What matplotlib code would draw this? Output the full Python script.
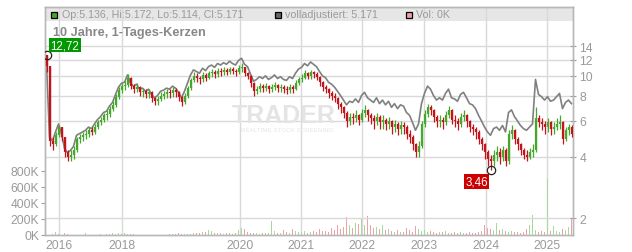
import matplotlib
matplotlib.use("Agg")
import matplotlib.pyplot as plt
from matplotlib.patches import Rectangle
from matplotlib.ticker import NullLocator

plt.rcParams["font.family"] = ["Liberation Sans", "DejaVu Sans"]

# closing prices, one value per sample (each sample = a few trading days)
close = [
    11.2, 4.8, 4.6, 5.1, 5.6, 5.0, 4.2, 4.0, 4.1, 4.3,
    4.9, 5.0, 5.1, 5.2, 5.4, 5.3, 5.6, 5.9, 6.1, 6.4,
    6.5, 6.9, 7.2, 7.9, 8.5, 8.9, 9.0, 9.8, 8.9, 8.6,
    8.8, 8.3, 8.4, 8.1, 8.3, 7.8, 7.5, 7.7, 8.0, 8.1,
    8.3, 8.2, 8.5, 8.3, 7.9, 7.4, 8.0, 8.7, 9.5, 10.0,
    9.8, 9.6, 10.1, 9.8, 10.3, 10.5, 10.2, 10.6, 10.4, 10.7,
    10.5, 10.8, 10.6, 10.4, 10.9, 11.0, 10.3, 10.0, 9.2, 8.4,
    8.6, 8.9, 8.7, 8.9, 8.6, 8.8, 9.0, 8.7, 8.8, 8.6,
    8.5, 8.8, 8.6, 9.2, 9.6, 9.8, 10.3, 10.0, 10.4, 10.2,
    9.9, 9.3, 8.8, 8.6, 8.2, 8.0, 7.8, 7.3, 7.0, 6.6,
    6.0, 6.3, 6.2, 6.4, 6.1, 6.6, 6.8, 6.4, 6.2, 6.0,
    6.3, 5.9, 6.1, 5.8, 6.0, 5.6, 5.8, 5.5, 5.7, 5.6,
    5.2, 5.0, 4.6, 4.2, 4.5, 5.8, 6.5, 7.0, 6.8, 6.3,
    6.0, 6.1, 5.9, 6.4, 6.8, 6.1, 6.0, 5.8, 6.3, 6.4,
    6.0, 5.6, 5.5, 5.3, 4.9, 4.6, 4.2, 3.9, 3.8, 4.1,
    4.2, 4.0, 4.3, 3.8, 5.2, 5.4, 4.9, 4.6, 4.3, 4.1,
    4.0, 4.2, 4.3, 6.2, 5.9, 5.8, 5.6, 5.9, 5.5, 5.6,
    5.8, 5.9, 4.9, 5.4, 5.6, 5.2,
]

# lowest / highest price within each sample
low = [
    10.4, 4.5, 4.3, 4.5, 5.0, 4.8, 4.0, 3.8, 3.8, 3.9,
    4.2, 4.7, 4.8, 4.9, 5.0, 5.1, 5.2, 5.5, 5.7, 5.9,
    6.1, 6.3, 6.7, 7.0, 7.7, 8.2, 8.5, 8.8, 8.6, 8.2,
    8.3, 8.0, 7.9, 7.8, 7.8, 7.4, 7.2, 7.2, 7.5, 7.7,
    7.8, 7.8, 7.9, 7.9, 7.5, 7.1, 7.3, 7.8, 8.5, 9.3,
    9.3, 9.1, 9.3, 9.4, 9.6, 9.9, 9.8, 9.9, 10.0, 10.1,
    10.1, 10.2, 10.2, 10.0, 10.2, 10.5, 10.0, 9.6, 8.8, 8.0,
    8.1, 8.3, 8.3, 8.4, 8.2, 8.3, 8.5, 8.3, 8.3, 8.2,
    8.1, 8.2, 8.2, 8.5, 9.0, 9.3, 9.6, 9.6, 9.7, 9.8,
    9.5, 8.9, 8.4, 8.2, 7.8, 7.6, 7.4, 6.9, 6.6, 6.2,
    5.6, 5.7, 5.8, 5.9, 5.7, 5.9, 6.3, 6.0, 5.8, 5.5,
    5.7, 5.5, 5.5, 5.4, 5.5, 5.2, 5.3, 5.1, 5.2, 5.2,
    4.9, 4.7, 4.3, 4.0, 4.0, 4.4, 5.6, 6.3, 6.4, 5.9,
    5.6, 5.6, 5.5, 5.7, 6.2, 5.8, 5.6, 5.4, 5.6, 6.0,
    5.6, 5.3, 5.1, 4.9, 4.6, 4.3, 3.9, 3.6, 3.46, 3.6,
    3.8, 3.7, 3.8, 3.6, 3.7, 4.9, 4.6, 4.3, 4.1, 3.9,
    3.8, 3.9, 4.0, 4.2, 5.6, 5.4, 5.2, 5.3, 5.1, 5.2,
    5.4, 5.5, 4.6, 4.8, 5.1, 5.0,
]
high = [
    12.72, 11.2, 5.0, 5.3, 5.7, 5.6, 5.0, 4.3, 4.3, 4.5,
    5.0, 5.2, 5.3, 5.4, 5.6, 5.6, 5.8, 6.1, 6.3, 6.6,
    6.8, 7.1, 7.5, 8.1, 8.8, 9.2, 9.4, 10.2, 9.9, 9.1,
    9.2, 8.9, 8.7, 8.6, 8.6, 8.4, 7.9, 8.0, 8.3, 8.4,
    8.6, 8.6, 8.8, 8.7, 8.4, 8.0, 8.2, 8.9, 9.8, 10.4,
    10.3, 10.0, 10.4, 10.3, 10.6, 10.8, 10.7, 10.9, 10.9, 11.0,
    10.9, 11.1, 11.0, 10.8, 11.3, 11.5, 11.1, 10.5, 10.1, 9.3,
    8.9, 9.2, 9.1, 9.2, 9.0, 9.1, 9.3, 9.1, 9.1, 9.0,
    8.9, 9.1, 9.0, 9.5, 9.9, 10.2, 10.7, 10.5, 10.7, 10.6,
    10.4, 10.0, 9.4, 9.0, 8.7, 8.4, 8.2, 7.9, 7.4, 7.1,
    6.7, 6.6, 6.6, 6.8, 6.5, 6.9, 7.2, 6.9, 6.6, 6.4,
    6.6, 6.4, 6.4, 6.2, 6.3, 6.1, 6.1, 5.9, 6.0, 5.9,
    5.7, 5.4, 5.1, 4.7, 4.8, 6.0, 6.8, 7.3, 7.2, 6.9,
    6.4, 6.4, 6.3, 6.7, 7.1, 6.9, 6.4, 6.2, 6.6, 6.8,
    6.5, 6.1, 5.8, 5.6, 5.4, 5.0, 4.7, 4.3, 4.1, 4.3,
    4.5, 4.4, 4.5, 4.4, 5.4, 5.7, 5.5, 5.0, 4.7, 4.4,
    4.3, 4.4, 4.6, 7.0, 6.4, 6.2, 6.0, 6.2, 6.0, 5.9,
    6.2, 6.4, 6.0, 5.6, 5.8, 5.7,
]

# fully adjusted price (grey line)
adjusted = [
    11.5, 5.0, 4.8, 5.3, 5.8, 5.2, 4.4, 4.2, 4.3, 4.5,
    5.1, 5.2, 5.3, 5.4, 5.6, 5.5, 5.8, 6.1, 6.3, 6.6,
    6.7, 7.1, 7.4, 8.1, 8.8, 9.2, 9.3, 10.1, 9.2, 8.9,
    9.1, 8.6, 8.7, 8.4, 8.6, 8.1, 7.8, 8.0, 8.4, 8.5,
    8.7, 8.6, 8.9, 8.7, 8.3, 7.8, 8.4, 9.2, 10.1, 10.7,
    10.5, 10.3, 10.9, 10.6, 11.1, 11.3, 11.0, 11.5, 11.3, 11.6,
    11.4, 11.8, 11.5, 11.3, 11.9, 12.2, 11.4, 11.1, 10.2, 9.4,
    9.6, 9.9, 9.7, 10.0, 9.6, 9.8, 10.1, 9.7, 9.9, 9.6,
    9.5, 9.9, 9.7, 10.3, 10.8, 11.0, 11.5, 11.2, 11.7, 11.4,
    11.1, 10.5, 10.0, 9.8, 9.3, 9.1, 8.8, 8.4, 8.0, 7.6,
    7.2, 7.5, 7.4, 7.7, 7.4, 8.0, 8.3, 7.8, 7.6, 7.4,
    7.8, 7.3, 7.6, 7.2, 7.5, 7.0, 7.3, 6.9, 7.2, 7.1,
    6.6, 6.4, 5.9, 5.4, 5.8, 7.3, 8.2, 8.9, 8.6, 8.0,
    7.6, 7.8, 7.6, 8.2, 8.6, 7.8, 7.7, 7.5, 8.1, 8.3,
    7.8, 7.3, 7.2, 6.9, 6.4, 6.0, 5.6, 5.3, 5.1, 5.5,
    5.6, 5.4, 5.7, 5.3, 6.6, 6.8, 6.3, 6.0, 5.7, 5.5,
    5.4, 5.6, 5.8, 9.6, 8.1, 7.9, 7.6, 7.9, 7.5, 7.6,
    7.9, 8.2, 6.9, 7.4, 7.6, 7.3,
]

# traded volume in thousands
volume_k = [
    0, 5, 8, 35, 10, 6, 30, 8, 5, 4,
    3, 4, 5, 25, 4, 3, 2, 3, 10, 5,
    8, 15, 20, 12, 25, 18, 30, 12, 10, 8,
    6, 4, 5, 3, 4, 3, 2, 3, 4, 3,
    5, 10, 8, 15, 20, 12, 10, 15, 18, 20,
    25, 20, 35, 40, 60, 45, 30, 25, 20, 15,
    20, 25, 15, 20, 60, 90, 70, 40, 30, 25,
    20, 15, 25, 30, 20, 175, 50, 25, 30, 60,
    40, 30, 80, 50, 40, 35, 45, 30, 40, 50,
    35, 80, 45, 50, 40, 90, 60, 120, 70, 100,
    220, 130, 90, 150, 140, 200, 130, 240, 120, 90,
    100, 80, 130, 60, 80, 50, 40, 60, 35, 40,
    90, 60, 40, 110, 80, 50, 60, 40, 50, 35,
    30, 35, 40, 45, 30, 30, 35, 25, 40, 30,
    30, 40, 25, 30, 35, 45, 120, 90, 70, 60,
    150, 60, 70, 50, 40, 50, 40, 35, 30, 40,
    70, 120, 250, 60, 40, 50, 40, 700, 50, 110,
    50, 40, 80, 60, 100, 200,
]

first_open = 12.72
high_idx, high_val = 0, 12.72
low_idx, low_val = 148, 3.46

year_labels = ["2016", "2018", "2020", "2021", "2022", "2023", "2024", "2025"]
year_idx = [4.2, 25.2, 64.5, 84.7, 105.2, 125.9, 146.4, 166.7]
price_ticks = [2, 4, 6, 8, 10, 12, 14]
vol_ticks = [0, 200, 400, 600, 800]

ohlc_text = "Op:5.136, Hi:5.172, Lo:5.114, Cl:5.171"
adj_text = "volladjustiert: 5.171"
vol_text = "Vol: 0K"
title = "10 Jahre, 1-Tages-Kerzen"

GREEN = "#45a82a"
RED = "#c3141c"
GRID = "#d9d9d9"
TXT = "#9a9a9a"

idx = list(range(len(close)))
opens = [first_open] + close[:-1]
candle_cols = [GREEN if c >= o else RED for o, c in zip(opens, close)]
vol_cols = ["#a6d99a" if c >= o else "#f2a0a8" for o, c in zip(opens, close)]

fig = plt.figure(figsize=(6.32, 2.53), dpi=100)
ax = fig.add_axes([45 / 632, 17 / 253, 528 / 632, 228 / 253])
ax2 = ax.twinx()

# volume (left axis)
ax.bar(idx, volume_k, width=0.45, color=vol_cols, linewidth=0)
ax.set_ylim(0, 2850)
ax.set_xlim(-0.5, len(close) - 0.5)
ax.set_yticks(vol_ticks)
ax.set_yticklabels([f"{v}K" for v in vol_ticks])
ax.set_xticks(year_idx)
ax.set_xticklabels(year_labels)
ax.set_axisbelow(True)
ax.grid(True, axis="x", color=GRID, lw=1)
ax.tick_params(axis="y", length=3, color="#a0a0a0", labelcolor=TXT, labelsize=8.7, pad=1)
ax.tick_params(axis="x", length=0, labelcolor=TXT, labelsize=8.7, pad=3)

# header band
ax.add_patch(Rectangle((0, (236 - 22) / 228), 1, 14 / 228, transform=ax.transAxes,
                       facecolor="#e6e6e6", edgecolor="none", zorder=0.1))

# price (right axis, log)
ax2.set_yscale("log")
ax2.set_ylim(1.65, 21.8)
ax2.set_yticks(price_ticks)
ax2.set_yticklabels([str(t) for t in price_ticks])
ax2.yaxis.set_minor_locator(NullLocator())
ax2.set_axisbelow(True)
ax2.grid(True, axis="y", color=GRID, lw=1)
ax2.tick_params(axis="y", direction="inout", length=5, color="#a0a0a0",
                labelcolor=TXT, labelsize=8.7, pad=2)

ax2.plot(idx, adjusted, color="#808080", lw=1.2, zorder=2)
ax2.vlines(idx, low, high, colors=candle_cols, lw=0.9, zorder=3)
ax2.vlines(idx, opens, close, colors=candle_cols, lw=1.6, zorder=3)

ax2.plot(high_idx, high_val, "o", mfc="none", mec="#222222", ms=6, mew=0.9, zorder=5)
ax2.plot(low_idx, low_val, "o", mfc="none", mec="#222222", ms=6, mew=0.9, zorder=5)
ax2.annotate(f"{high_val:.2f}".replace(".", ","), (high_idx, high_val),
             xytext=(3, 2.5), textcoords="offset points", ha="left", va="bottom",
             color="white", fontsize=8.3, zorder=6,
             bbox=dict(boxstyle="square,pad=0.12", fc="#009900", ec="none"))
ax2.annotate(f"{low_val:.2f}".replace(".", ","), (low_idx, low_val),
             xytext=(-2, -4.5), textcoords="offset points", ha="right", va="top",
             color="white", fontsize=8.3, zorder=6,
             bbox=dict(boxstyle="square,pad=0.12", fc="#cc0000", ec="none"))

for a in (ax, ax2):
    for s in a.spines.values():
        s.set_color("#b8b8b8")
        s.set_linewidth(1)

# watermark
fig.text(284 / 632, 1 - 116 / 253, "TRADER", fontsize=18, fontweight="bold",
         color="#e4e4e4", ha="center", va="center", zorder=0)
fig.text(287 / 632, 1 - 130 / 253, "REALTIME STOCK SCREENING", fontsize=4.5,
         color="#e6e6e6", ha="center", va="center", zorder=0)

# legend in header
for x0, col in [(51, GREEN), (275, "#666666"), (406, "#f2a0a8")]:
    fig.add_artist(Rectangle((x0 / 632, 1 - 19 / 253), 6 / 632, 6 / 253,
                             transform=fig.transFigure, facecolor=col,
                             edgecolor="black", lw=0.9))
fig.text(62 / 632, 1 - 15.5 / 253, ohlc_text, fontsize=7.7, color=TXT, va="center")
fig.text(285 / 632, 1 - 15.5 / 253, adj_text, fontsize=7.7, color=TXT, va="center")
fig.text(416 / 632, 1 - 15.5 / 253, vol_text, fontsize=7.7, color=TXT, va="center")
fig.text(53 / 632, 1 - 33 / 253, title, fontsize=9.2, fontweight="bold",
         color="#888888", va="center")

fig.savefig("out.png", dpi=100)
plt.close(fig)
